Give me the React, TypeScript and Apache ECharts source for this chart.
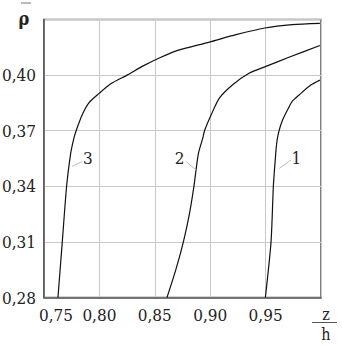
import React, { useEffect, useRef } from "react";
import * as echarts from "echarts";

// z/h values and rho values
const curve1Z = [0.9498, 0.9549, 0.957, 0.9587, 0.96, 0.9617, 0.9653, 0.9713, 0.974, 0.9803, 0.9908, 0.999];
const curve1Rho = [0.28, 0.31, 0.34, 0.3542, 0.3632, 0.369, 0.3758, 0.383, 0.3858, 0.3893, 0.3946, 0.3973];

const curve2Z = [0.861, 0.869, 0.8758, 0.8812, 0.8853, 0.8893, 0.8933, 0.8949, 0.9009, 0.9083, 0.9203, 0.935, 0.9503, 0.971, 0.999];
const curve2Rho = [0.28, 0.295, 0.31, 0.325, 0.34, 0.3575, 0.366, 0.37, 0.3786, 0.3876, 0.3948, 0.401, 0.4047, 0.4096, 0.416];

const curve3Z = [0.7626, 0.7665, 0.7704, 0.774, 0.777, 0.779, 0.7845, 0.7905, 0.7995, 0.81, 0.825, 0.84, 0.855, 0.87, 0.8993, 0.9233, 0.9493, 0.974, 0.999];
const curve3Rho = [0.28, 0.31, 0.34, 0.3575, 0.366, 0.37, 0.3786, 0.385, 0.39, 0.3952, 0.4, 0.4051, 0.4095, 0.4132, 0.4178, 0.4218, 0.4254, 0.4272, 0.4279];

const curveNames = ["1", "2", "3"];
// leader line start (on curve), leader end, label position — in data units
const leaderStart = [[0.9624, 0.3497], [0.8874, 0.3487], [0.7754, 0.3508]];
const leaderEnd = [[0.973, 0.3542], [0.8784, 0.3533], [0.7844, 0.3533]];
const labelPos = [[0.9778, 0.3553], [0.8723, 0.3553], [0.7896, 0.3553]];

const xMin = 0.75, xMax = 1.0, xStep = 0.05;
const yMin = 0.28, yMax = 0.43, yStep = 0.03;

const FONT = "DejaVu Serif Condensed, DejaVu Serif, serif";
const TXT = "#222";
const FS = 17;

function zip(a: number[], b: number[]) {
  return a.map((v, i) => [v, b[i]]);
}

export default function App() {
  const ref = useRef<HTMLDivElement>(null);
  useEffect(() => {
    if (!ref.current) return;
    const chart = echarts.init(ref.current, undefined, { renderer: "svg" });
    const curves = [zip(curve1Z, curve1Rho), zip(curve2Z, curve2Rho), zip(curve3Z, curve3Rho)];
    const fmt = (v: number) => v.toFixed(2).replace(".", ",");
    chart.setOption({
      animation: false,
      backgroundColor: "#fff",
      grid: {
        left: 44, top: 19.5, right: 21, bottom: 48.5,
        outerBoundsMode: "none", containLabel: false,
        show: true, borderColor: "#555", borderWidth: 1.5, backgroundColor: "transparent",
      },
      xAxis: {
        type: "value", min: xMin, max: xMax, interval: xStep,
        axisLine: { show: true, lineStyle: { color: "#555", width: 1.5 } },
        axisTick: { show: false },
        splitLine: { show: true, lineStyle: { color: "#c8c8c8", width: 1 } },
        axisLabel: {
          interval: 0, margin: 9, fontFamily: FONT, fontSize: FS, color: TXT,
          formatter: (v: number) => {
            if (v > 0.99) return "";
            if (Math.abs(v - xMin) < 1e-6) return "{a|" + fmt(v) + "}";
            return fmt(v);
          },
          rich: { a: { fontFamily: FONT, fontSize: FS, color: TXT, padding: [0, 0, 0, 24] } },
        },
      },
      yAxis: {
        type: "value", min: yMin, max: yMax, interval: yStep,
        axisLine: { show: true, lineStyle: { color: "#555", width: 1.5 } },
        axisTick: { show: false },
        splitLine: { show: true, lineStyle: { color: "#c8c8c8", width: 1 } },
        axisLabel: {
          margin: 8, fontFamily: FONT, fontSize: FS, color: TXT,
          formatter: (v: number) => (v > 0.425 ? "" : fmt(v)),
        },
      },
      series: curves.map((data, i) => ({
        type: "line",
        data,
        symbol: "none",
        smooth: 0.25,
        lineStyle: { color: "#111", width: 1.2 },
        markLine: {
          silent: true,
          symbol: ["none", "none"],
          lineStyle: { color: "#bbb", width: 1, type: "solid" },
          label: { show: false },
          data: [[{ coord: leaderStart[i] }, { coord: leaderEnd[i] }]],
        },
        markPoint: {
          silent: true,
          symbol: "circle",
          symbolSize: 1,
          itemStyle: { color: "rgba(0,0,0,0)" },
          label: {
            show: true, position: "inside", formatter: curveNames[i],
            fontFamily: FONT, fontSize: FS, color: TXT,
          },
          data: [{ coord: labelPos[i] }],
        },
      })),
      graphic: [
        { type: "text", x: 24, y: 18, style: { text: "ρ", fontFamily: FONT, fontWeight: "bold", fontSize: 18, fill: TXT, align: "center", verticalAlign: "middle" } },
        { type: "line", shape: { x1: 21, y1: 3, x2: 31, y2: 3 }, style: { stroke: "#777", lineWidth: 1 } },
        { type: "text", x: 326, y: 314, style: { text: "z", fontFamily: FONT, fontSize: 16, fill: TXT, align: "center", verticalAlign: "middle" } },
        { type: "line", shape: { x1: 312, y1: 322.5, x2: 337, y2: 322.5 }, style: { stroke: "#555", lineWidth: 1 } },
        { type: "text", x: 326, y: 334, style: { text: "h", fontFamily: FONT, fontSize: 16, fill: TXT, align: "center", verticalAlign: "middle" } },
      ],
    });
    return () => chart.dispose();
  }, []);
  return <div ref={ref} style={{ position: "fixed", left: 0, top: 0, width: 342, height: 346, background: "#fff" }} />;
}
